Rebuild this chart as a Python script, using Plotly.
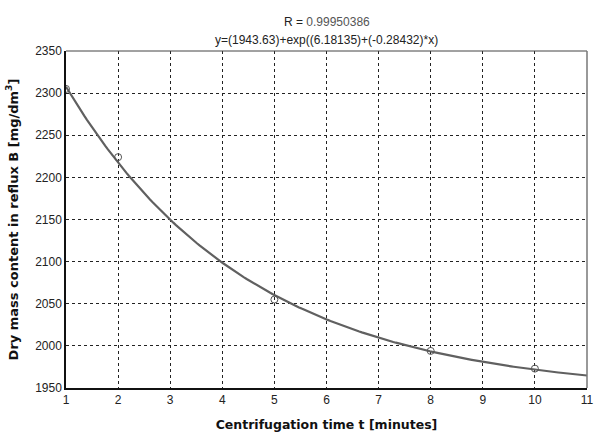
import numpy as np
import plotly.graph_objects as go

# Measured dry mass content vs centrifugation time
time_min = [1, 2, 5, 8, 10]
dry_mass = [2305, 2224, 2055, 1994, 1973]

# Fitted model: y = a + exp(b + c*x)
fit_a = 1943.63
fit_b = 6.18135
fit_c = -0.28432
fit_r = "0.99950386"

x_ticks = list(range(1, 12))
y_ticks = list(range(1950, 2351, 50))

xf = np.linspace(1, 11, 200)
yf = fit_a + np.exp(fit_b + fit_c * xf)

fig = go.Figure()
fig.add_trace(go.Scatter(x=xf, y=yf, mode="lines",
                         line=dict(color="#606060", width=2.2),
                         hoverinfo="skip", showlegend=False))
fig.add_trace(go.Scatter(x=time_min, y=dry_mass, mode="markers",
                         marker=dict(symbol="circle-open", size=7,
                                     color="#555555", line=dict(width=1)),
                         showlegend=False))

font = "Liberation Sans, Arial, sans-serif"
bold_family = "DejaVu Sans, Verdana, sans-serif"
fig.update_layout(
    width=595, height=432,
    margin=dict(l=66, r=8, t=51, b=44),
    paper_bgcolor="white", plot_bgcolor="white",
    font=dict(family=font, size=12, color="#222222"),
    xaxis=dict(range=[1, 11], tickvals=x_ticks, showgrid=True,
               gridcolor="#222222", griddash="dot", gridwidth=1,
               showline=True, linecolor="#111111", linewidth=1.5, mirror=False,
               ticks="", zeroline=False, automargin=False,
               title=dict(text="<b>Centrifugation time t [minutes]</b>",
                          font=dict(family=bold_family, size=12.5, color="#111111"),
                          standoff=15)),
    yaxis=dict(range=[1950, 2350], tickvals=y_ticks, showgrid=True,
               gridcolor="#222222", griddash="dot", gridwidth=1,
               showline=True, linecolor="#111111", linewidth=1.5,
               ticks="", zeroline=False, automargin=False,
               title=dict(text="<b>Dry mass content in reflux B [mg/dm<sup>3</sup>]</b>",
                          font=dict(family=bold_family, size=13, color="#111111"),
                          standoff=14)),
    shapes=[
        dict(type="line", xref="paper", yref="paper", x0=0, x1=1, y0=1, y1=1,
             line=dict(color="#444444", width=1)),
        dict(type="line", xref="paper", yref="paper", x0=1, x1=1, y0=0, y1=1,
             line=dict(color="#777777", width=1.5)),
    ],
    annotations=[
        dict(text=f"R = <span style='color:#555555'>{fit_r}</span>", xref="paper",
             yref="paper", x=0.5, y=1, yshift=38, showarrow=False,
             font=dict(size=12, color="#222222")),
        dict(text=f"y=({fit_a})+exp(({fit_b})+({fit_c})*x)", xref="paper",
             yref="paper", x=0.5, y=1, yshift=20, showarrow=False,
             font=dict(size=12, color="#222222")),
    ],
)

fig.write_html("out.html")
